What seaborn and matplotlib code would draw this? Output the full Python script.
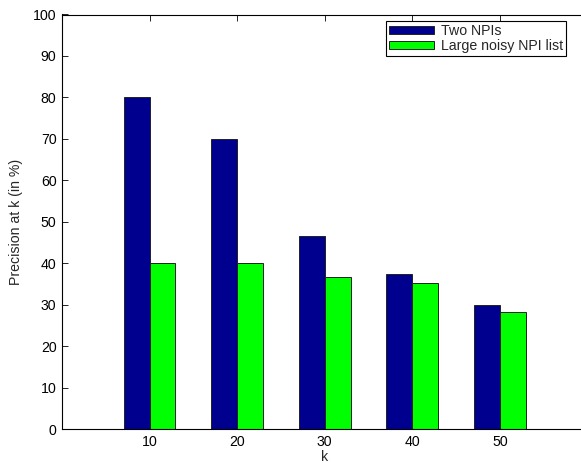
import matplotlib
matplotlib.use("Agg")
import matplotlib.pyplot as plt
import seaborn as sns
import pandas as pd

k_labels = ["10", "20", "30", "40", "50"]
two_npis = [80, 70, 46.7, 37.5, 30]
large_noisy = [40, 40, 36.6, 35.3, 28.3]
series_names = ["Two NPIs", "Large noisy NPI list"]

df = pd.DataFrame({
    "k": k_labels * 2,
    "value": two_npis + large_noisy,
    "series": [series_names[0]] * 5 + [series_names[1]] * 5,
})

sns.set_theme(style="white")
plt.rcParams['font.family'] = ['Liberation Sans', 'DejaVu Sans']
FS = 10.2

W, H = 581, 463
fig = plt.figure(figsize=(W / 100, H / 100), dpi=100)
left, right, top, bottom = 62, 587.5, 14.5, 429.3
ax = fig.add_axes([left / W, 1 - bottom / H, (right - left) / W, (bottom - top) / H])

sns.barplot(data=df, x="k", y="value", hue="series", order=k_labels,
            hue_order=series_names, palette=["#00008F", "#00FF00"],
            saturation=1, width=0.59, edgecolor="#222222", linewidth=0.7,
            ax=ax, legend=True)

ax.set_xlim(-1, 5)
ax.set_ylim(0, 100)
ax.set_yticks(range(0, 101, 10))
for s in ax.spines.values():
    s.set_visible(True)
    s.set_color("black")
    s.set_linewidth(0.8)
ax.tick_params(direction="in", length=4, width=0.6, labelsize=FS, colors="black",
               top=True, right=True, bottom=True, left=True, pad=4)
ax.set_xlabel("k", fontsize=FS, labelpad=1)
ax.set_ylabel("Precision at k (in %)", fontsize=FS, labelpad=7)

handles, labels = ax.get_legend_handles_labels()
ax.legend(handles, labels, loc="upper left",
          bbox_to_anchor=(386 / W, 1 - 21 / H), bbox_transform=fig.transFigure,
          frameon=True, fancybox=False, edgecolor="black", framealpha=1,
          fontsize=FS, handlelength=3.2, handleheight=0.5, handletextpad=0.5,
          borderpad=0.2, labelspacing=0.1, borderaxespad=0)
ax.get_legend().get_frame().set_linewidth(0.8)

fig.savefig("out.png", dpi=100)
